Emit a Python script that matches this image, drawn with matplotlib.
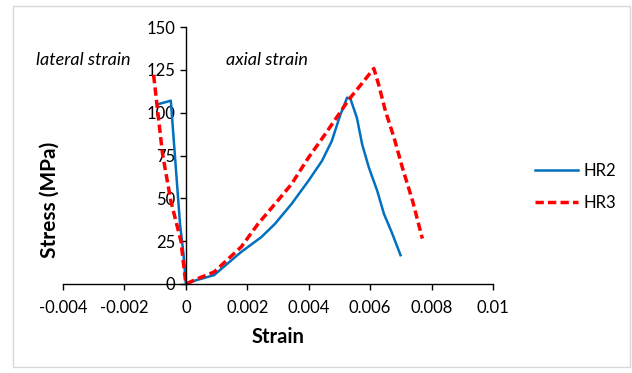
import numpy as np
import matplotlib
matplotlib.use('Agg')
from matplotlib import pyplot as plt
from matplotlib.patches import Rectangle

plt.rcParams['font.family'] = ['Lato', 'DejaVu Sans']

# HR2: lateral branch (from end back to origin), then axial branch
hr2_strain = [-0.00089, -0.00049, -0.00019, -0.00008, 0.0,
              0.00030, 0.00092, 0.00180, 0.00246, 0.00290, 0.00344, 0.00399,
              0.00443, 0.00475, 0.00503, 0.00525, 0.00536, 0.00557, 0.00574,
              0.00596, 0.00623, 0.00645, 0.00672, 0.00699]
hr2_stress = [105, 107, 35, 18, 0,
              2, 5.2, 18.7, 27.4, 35.1, 46.7, 60.2,
              71.8, 83.4, 98.8, 108.8, 108, 96.9, 81.5,
              67.9, 54.4, 40.9, 29.4, 16.8]

# HR3
hr3_strain = [-0.00105, -0.00076, -0.00049, -0.00016, 0.0,
              0.00030, 0.00092, 0.00180, 0.00235, 0.00290, 0.00344, 0.00399,
              0.00453, 0.00497, 0.00530, 0.00574, 0.00612, 0.00628, 0.00650,
              0.00678, 0.00705, 0.00738, 0.00770]
hr3_stress = [122, 76, 48.6, 25, 0,
              2.5, 7, 21.6, 35.1, 46.7, 58.3, 73.7,
              87.3, 98.8, 107.5, 117.2, 125.8, 116.2, 100.8,
              85.3, 67.9, 48.6, 26.5]

x_ticks = [-0.004, -0.002, 0, 0.002, 0.004, 0.006, 0.008, 0.01]
x_labels = ['-0.004', '-0.002', '0', '0.002', '0.004', '0.006', '0.008', '0.01']
y_ticks = [0, 25, 50, 75, 100, 125, 150]

W, H = 632, 373
fig = plt.figure(figsize=(W / 100, H / 100), dpi=100)
ax = fig.add_axes([63 / W, 1 - 284 / H, (493 - 63) / W, (284 - 27) / H])

ax.plot(hr2_strain, hr2_stress, color='#0070C0', lw=1.8, label='HR2')
ax.plot(hr3_strain, hr3_stress, color='#FF0000', lw=2.5, ls=(0, (2.4, 1.2)), label='HR3')

ax.set_xlim(-0.004, 0.01)
ax.set_ylim(0, 150)
ax.set_xticks(x_ticks)
ax.set_xticklabels(x_labels)
ax.set_yticks(y_ticks)

ax.spines['left'].set_position(('data', 0))
ax.spines['top'].set_visible(False)
ax.spines['right'].set_visible(False)
for s in ['left', 'bottom']:
    ax.spines[s].set_linewidth(1.0)
ax.tick_params(axis='both', direction='out', length=4.5, width=1.0, labelsize=12, colors='black')
ax.tick_params(axis='y', pad=3)
ax.tick_params(axis='x', pad=7)

fig.text(278 / W, 1 - 337 / H, 'Strain', ha='center', va='center',
         fontsize=14.5, fontweight='bold')
fig.text(50 / W, 1 - 200 / H, 'Stress (MPa)', rotation=90, ha='center', va='center',
         fontsize=15, fontweight='bold')

fig.text(83 / W, 1 - 60 / H, 'lateral strain', style='italic', fontsize=13, ha='center', va='center')
fig.text(267 / W, 1 - 60 / H, 'axial strain', style='italic', fontsize=13, ha='center', va='center')

fig.legend(loc='center left', bbox_to_anchor=(535 / W, 1 - 187 / H), frameon=False,
           fontsize=12, handlelength=2.6, labelspacing=0.95, handletextpad=0.3,
           borderaxespad=0, borderpad=0)

fig.patches.append(Rectangle((13 / W, 6 / H), (630 - 13) / W, (367 - 6) / H,
                             transform=fig.transFigure, fill=False, edgecolor='#D9D9D9', lw=1.0))

fig.savefig('out.png', dpi=100)
